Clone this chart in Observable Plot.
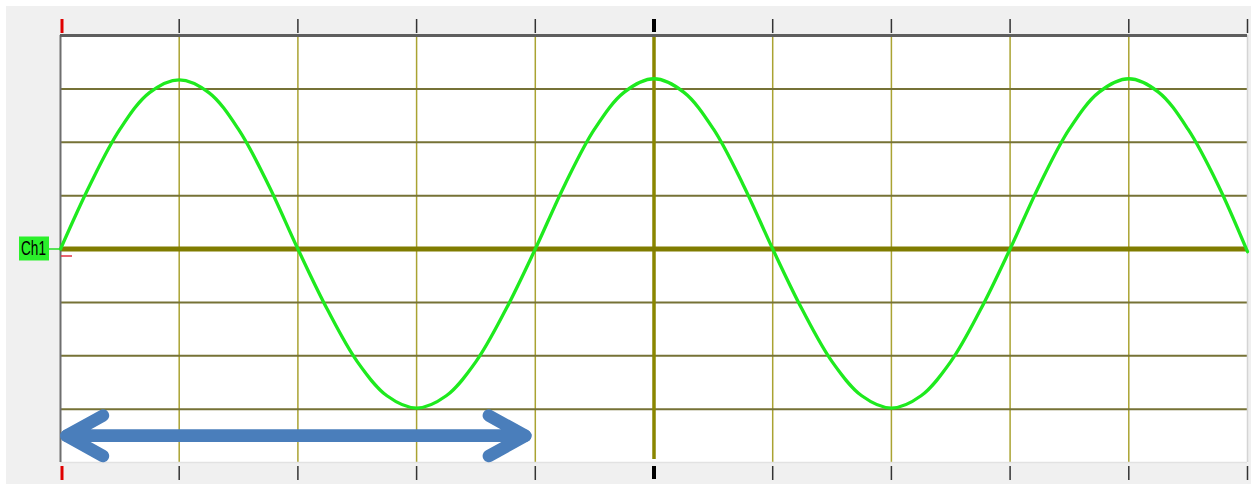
<!DOCTYPE html>
<html>
<head>
<meta charset="utf-8">
<script src="https://cdn.jsdelivr.net/npm/d3@7"></script>
<script src="https://cdn.jsdelivr.net/npm/@observablehq/plot@0.6"></script>
<style>
  html, body { margin: 0; padding: 0; background: #ffffff; }
  #chart svg { display: block; }
</style>
</head>
<body>
<div id="chart"></div>
<script>
// Time axis in divisions (10 horizontal divisions), amplitude in divisions (8 vertical)
const divisions = [0, 1, 2, 3, 4, 5, 6, 7, 8, 9, 10];
const levels = [-3, -2, -1, 1, 2, 3];
const channelNames = ["Ch1"];

// Ch1 trace, sampled every quarter division
const time = [
  0, 0.25, 0.5, 0.75, 1, 1.25, 1.5, 1.75, 2, 2.25, 2.5, 2.75, 3, 3.25, 3.5, 3.75,
  4, 4.25, 4.5, 4.75, 5, 5.25, 5.5, 5.75, 6, 6.25, 6.5, 6.75, 7, 7.25, 7.5, 7.75,
  8, 8.25, 8.5, 8.75, 9, 9.25, 9.5, 9.75, 10
];
const ch1 = [
  0, 1.21, 2.24, 2.93, 3.17, 2.93, 2.24, 1.21, 0, -1.14, -2.11, -2.75, -2.98, -2.75, -2.11, -1.14,
  0, 1.21, 2.25, 2.94, 3.19, 2.94, 2.25, 1.21, 0, -1.14, -2.11, -2.75, -2.98, -2.75, -2.11, -1.14,
  0, 1.21, 2.25, 2.94, 3.19, 2.94, 2.24, 1.21, -0.05
];

// Period annotation: one full cycle, drawn as a double-headed arrow
const periodStart = [0];
const periodEnd = [4];
const periodLevel = [-3.5];

const trace = time.map((t, i) => ({t, v: ch1[i]}));
const period = periodStart.map((s, i) => ({from: s, to: periodEnd[i], level: periodLevel[i]}));

const innerGrid = divisions.filter(d => d > 0 && d < 10 && d !== 5);
const plainTicks = divisions.filter(d => d !== 0 && d !== 5);
const noText = () => "";

const chart = Plot.plot({
  width: 1251,
  height: 484,
  marginLeft: 60,
  marginRight: 4,
  marginTop: 35,
  marginBottom: 22,
  x: {domain: [0, 10], axis: null},
  y: {domain: [-4, 4], axis: null},
  style: {
    background: "linear-gradient(#fff,#fff) top left / 100% 6px no-repeat, linear-gradient(#fff,#fff) top left / 6px 100% no-repeat, #f0f0f0",
    overflow: "visible"
  },
  marks: [
    Plot.frame({fill: "#ffffff", stroke: null}),
    // grid
    Plot.ruleX(innerGrid, {stroke: "#aaa332", strokeWidth: 1.5}),
    Plot.ruleY(levels, {stroke: "#767236", strokeWidth: 2}),
    Plot.ruleX([5], {stroke: "#8a8600", strokeWidth: 3.5, insetBottom: 3}),
    Plot.ruleY([0], {stroke: "#807c00", strokeWidth: 5}),
    // borders
    Plot.ruleX([10], {stroke: "#d4d4d4", strokeWidth: 1.5}),
    Plot.ruleY([-4], {stroke: "#e2e2e2", strokeWidth: 1.5}),
    Plot.ruleX([0], {stroke: "#6e6e6e", strokeWidth: 2}),
    Plot.ruleY([4], {stroke: "#5e5e5e", strokeWidth: 3}),
    // division ticks, top and bottom
    Plot.axisX(plainTicks, {anchor: "top", tickSize: 14, dy: -3, stroke: "#333", strokeWidth: 1.5, tickFormat: noText, label: null}),
    Plot.axisX(plainTicks, {anchor: "bottom", tickSize: 14, dy: 4, stroke: "#333", strokeWidth: 1.5, tickFormat: noText, label: null}),
    Plot.axisX([5], {anchor: "top", tickSize: 13, dy: -4, stroke: "#000", strokeWidth: 4, tickFormat: noText, label: null}),
    Plot.axisX([5], {anchor: "bottom", tickSize: 13, dy: 4, stroke: "#000", strokeWidth: 4, tickFormat: noText, label: null}),
    Plot.axisX([0], {anchor: "top", tickSize: 14, dx: 1.5, dy: -3, stroke: "#e00000", strokeWidth: 3, tickFormat: noText, label: null}),
    Plot.axisX([0], {anchor: "bottom", tickSize: 14, dx: 1.5, dy: 4, stroke: "#e00000", strokeWidth: 3, tickFormat: noText, label: null}),
    // Ch1 trace
    Plot.line(trace, {x: "t", y: "v", stroke: "#1eea1e", strokeWidth: 3.3, curve: "catmull-rom"}),
    // period arrow (two heads)
    Plot.arrow(period, {x1: "from", x2: "to", y1: "level", y2: "level", stroke: "#4a7ebb", strokeWidth: 12.5, headLength: 5, headAngle: 58, insetStart: 6, insetEnd: 10}),
    Plot.arrow(period, {x1: "to", x2: "from", y1: "level", y2: "level", stroke: "#4a7ebb", strokeWidth: 12.5, headLength: 5, headAngle: 58, insetStart: 10, insetEnd: 6}),
    // channel marker
    Plot.ruleY([0], {x1: 0, x2: 0, insetLeft: -12, insetRight: 0, stroke: "#22dd22", strokeWidth: 1.5}),
    Plot.ruleY([0], {x1: 0, x2: 0, insetLeft: 1, insetRight: -12, dy: 7, stroke: "#e03040", strokeWidth: 1.5}),
    Plot.rect([0], {x1: 0, x2: 0, y1: 0, y2: 0, insetLeft: -41, insetRight: 11, insetTop: -12, insetBottom: -12, fill: "#2bf02b"}),
    Plot.text(channelNames, {x: 0, y: 0, text: d => d, dx: -27, dy: 0, textAnchor: "middle", fill: "#000", fontSize: 20, fontFamily: "'Liberation Sans', Arial, sans-serif", className: "chlabel"})
  ]
});

// narrow the channel label to the width of its box
d3.select(chart).selectAll("text").filter(function () { return this.textContent === "Ch1"; })
  .attr("textLength", 25).attr("lengthAdjust", "spacingAndGlyphs");

document.getElementById("chart").append(chart);
</script>
</body>
</html>
